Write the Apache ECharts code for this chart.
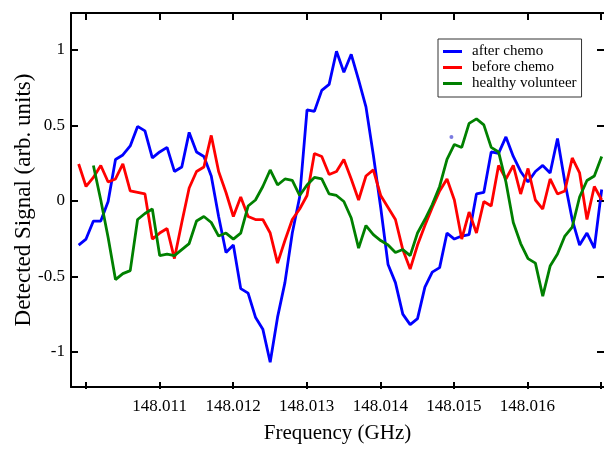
<!DOCTYPE html>
<html>
<head>
<meta charset="utf-8">
<script src="https://cdn.jsdelivr.net/npm/echarts@6/dist/echarts.min.js"></script>
<style>
  html, body { margin: 0; padding: 0; background: #fff; }
  #chart { width: 604px; height: 449px; }
</style>
</head>
<body>
<div id="chart"></div>
<script>
// frequency samples (GHz)
const freqGHz = [
  148.0099, 148.0100, 148.0101, 148.0102, 148.0103, 148.0104, 148.0105, 148.0106,
  148.0107, 148.0108, 148.0109, 148.0110, 148.0111, 148.0112, 148.0113, 148.0114,
  148.0115, 148.0116, 148.0117, 148.0118, 148.0119, 148.0120, 148.0121, 148.0122,
  148.0123, 148.0124, 148.0125, 148.0126, 148.0127, 148.0128, 148.0129, 148.0130,
  148.0131, 148.0132, 148.0133, 148.0134, 148.0135, 148.0136, 148.0137, 148.0138,
  148.0139, 148.0140, 148.0141, 148.0142, 148.0143, 148.0144, 148.0145, 148.0146,
  148.0147, 148.0148, 148.0149, 148.0150, 148.0151, 148.0152, 148.0153, 148.0154,
  148.0155, 148.0156, 148.0157, 148.0158, 148.0159, 148.0160, 148.0161, 148.0162,
  148.0163, 148.0164, 148.0165, 148.0166, 148.0167, 148.0168, 148.0169, 148.0170
];

const afterChemo = [
  -0.30, -0.26, -0.14, -0.14, -0.01, 0.27, 0.30, 0.36,
  0.49, 0.46, 0.28, 0.32, 0.35, 0.19, 0.22, 0.45,
  0.32, 0.29, 0.16, -0.11, -0.35, -0.30, -0.59, -0.62,
  -0.78, -0.86, -1.08, -0.78, -0.55, -0.22, 0.02, 0.60,
  0.59, 0.73, 0.77, 0.99, 0.85, 0.97, 0.80, 0.62,
  0.30, -0.05, -0.43, -0.55, -0.76, -0.83, -0.79, -0.58,
  -0.48, -0.45, -0.22, -0.26, -0.24, -0.23, 0.04, 0.05,
  0.32, 0.31, 0.42, 0.29, 0.19, 0.12, 0.19, 0.23,
  0.18, 0.41, 0.12, -0.13, -0.30, -0.22, -0.32, 0.07
];

const beforeChemo = [
  0.24, 0.09, 0.15, 0.23, 0.12, 0.14, 0.24, 0.06,
  0.05, 0.04, -0.26, -0.22, -0.19, -0.39, -0.15, 0.08,
  0.19, 0.22, 0.43, 0.19, 0.05, -0.11, 0.02, -0.11,
  -0.13, -0.13, -0.22, -0.42, -0.27, -0.13, -0.06, 0.03,
  0.31, 0.29, 0.17, 0.19, 0.27, 0.14, 0.00, 0.16,
  0.20, 0.03, -0.05, -0.13, -0.33, -0.46, -0.30, -0.17,
  -0.05, 0.06, 0.14, 0.00, -0.26, -0.08, -0.22, -0.01,
  -0.04, 0.23, 0.14, 0.23, 0.04, 0.21, 0.00, -0.06,
  0.14, 0.04, 0.06, 0.28, 0.18, -0.13, 0.09, 0.00
];

const healthyVolunteer = [
  null, null, 0.23, 0.00, -0.25, -0.53, -0.49, -0.47,
  -0.13, -0.09, -0.06, -0.37, -0.36, -0.37, -0.33, -0.29,
  -0.14, -0.11, -0.15, -0.24, -0.22, -0.26, -0.22, -0.04,
  0.00, 0.09, 0.20, 0.10, 0.14, 0.13, 0.03, 0.10,
  0.15, 0.14, 0.04, 0.03, -0.01, -0.12, -0.32, -0.17,
  -0.23, -0.27, -0.30, -0.35, -0.33, -0.37, -0.22, -0.13,
  -0.03, 0.09, 0.27, 0.37, 0.35, 0.51, 0.54, 0.50,
  0.35, 0.32, 0.12, -0.15, -0.29, -0.39, -0.42, -0.64,
  -0.44, -0.36, -0.24, -0.18, 0.02, 0.13, 0.16, 0.29
];

// stray dot near 148.015 GHz
const strayDot = [[148.01496, 0.42]];

const xTicks = [148.010, 148.017];   // first / last tick (unlabelled)
const yTicks = [-1, 1];

// axis ranges of the frame
const xMin = 148.009796, xMax = 148.0170313;
const yMin = -1.245, yMax = 1.245;

const FONT = 'Liberation Serif';
const plot = { left: 71, top: 13, width: 533, height: 376 };
const W = 604, H = 449;

const pxX = v => plot.left + (v - xMin) / (xMax - xMin) * plot.width;
const pxY = v => plot.top + (yMax - v) / (yMax - yMin) * plot.height;

const pair = ys => freqGHz.map((f, i) => [f, ys[i]]);

const chart = echarts.init(document.getElementById('chart'));

const axisLine = { show: true, onZero: false, lineStyle: { color: '#000', width: 2 } };
const tickIn = { show: true, inside: true, length: 7, lineStyle: { color: '#000', width: 2 } };
const hidden = { show: false };

chart.setOption({
  animation: false,
  backgroundColor: '#fff',
  grid: [
    // frame
    { left: plot.left, right: W - plot.left - plot.width, top: plot.top, bottom: H - plot.top - plot.height },
    // x ticks
    { left: pxX(xTicks[0]), right: W - pxX(xTicks[1]), top: plot.top, bottom: H - plot.top - plot.height },
    // y ticks
    { left: plot.left, right: W - plot.left - plot.width, top: pxY(yTicks[1]), bottom: H - pxY(yTicks[0]) }
  ],
  xAxis: [
    {
      type: 'value', gridIndex: 0, min: xMin, max: xMax, position: 'bottom',
      axisLine, axisTick: hidden, axisLabel: hidden, splitLine: hidden,
      name: 'Frequency (GHz)', nameLocation: 'middle', nameGap: 36,
      nameTextStyle: { fontFamily: FONT, fontSize: 21, color: '#000' }
    },
    {
      type: 'value', gridIndex: 0, min: xMin, max: xMax, position: 'top',
      axisLine, axisTick: hidden, axisLabel: hidden, splitLine: hidden
    },
    {
      type: 'value', gridIndex: 1, min: xTicks[0], max: xTicks[1], interval: 0.001, position: 'bottom',
      axisLine: hidden, axisTick: tickIn, splitLine: hidden,
      axisLabel: {
        margin: 9, fontFamily: FONT, fontSize: 17, color: '#000',
        formatter: v => {
          const s = v.toFixed(3);
          return (s === '148.010' || s === '148.017') ? '' : s;
        }
      }
    },
    {
      type: 'value', gridIndex: 1, min: xTicks[0], max: xTicks[1], interval: 0.001, position: 'top',
      axisLine: hidden, axisTick: tickIn, axisLabel: hidden, splitLine: hidden
    },
    { type: 'value', gridIndex: 2, min: 0, max: 1, show: false }
  ],
  yAxis: [
    {
      type: 'value', gridIndex: 0, min: yMin, max: yMax, position: 'left',
      axisLine, axisTick: hidden, axisLabel: hidden, splitLine: hidden,
      name: 'Detected Signal (arb. units)', nameLocation: 'middle', nameGap: 36,
      nameTextStyle: { fontFamily: FONT, fontSize: 23, color: '#000' }
    },
    {
      type: 'value', gridIndex: 0, min: yMin, max: yMax, position: 'right',
      axisLine: hidden, axisTick: hidden, axisLabel: hidden, splitLine: hidden
    },
    {
      type: 'value', gridIndex: 2, min: yTicks[0], max: yTicks[1], interval: 0.5, position: 'left',
      axisLine: hidden, axisTick: tickIn, splitLine: hidden,
      axisLabel: { margin: 6, fontFamily: FONT, fontSize: 17, color: '#000' }
    },
    {
      type: 'value', gridIndex: 2, min: yTicks[0], max: yTicks[1], interval: 0.5, position: 'right',
      axisLine: hidden, axisTick: tickIn, axisLabel: hidden, splitLine: hidden
    },
    { type: 'value', gridIndex: 1, min: 0, max: 1, show: false }
  ],
  legend: {
    orient: 'vertical', left: 438, top: 39,
    padding: [5, 5, 6, 5], itemGap: 1,
    itemWidth: 19, itemHeight: 3, icon: 'rect',
    borderColor: '#333', borderWidth: 1,
    textStyle: { fontFamily: FONT, fontSize: 15, color: '#000', padding: [0, 0, 0, 5] },
    data: ['after chemo', 'before chemo', 'healthy volunteer']
  },
  series: [
    {
      name: 'after chemo', type: 'line', xAxisIndex: 0, yAxisIndex: 0,
      data: pair(afterChemo), showSymbol: false, color: '#0000ff',
      lineStyle: { width: 2.8, color: '#0000ff' }
    },
    {
      name: 'before chemo', type: 'line', xAxisIndex: 0, yAxisIndex: 0,
      data: pair(beforeChemo), showSymbol: false, color: '#ff0000',
      lineStyle: { width: 2.8, color: '#ff0000' }
    },
    {
      name: 'healthy volunteer', type: 'line', xAxisIndex: 0, yAxisIndex: 0,
      data: pair(healthyVolunteer), showSymbol: false, color: '#008000',
      lineStyle: { width: 2.8, color: '#008000' }
    },
    {
      name: 'dot', type: 'scatter', xAxisIndex: 0, yAxisIndex: 0, silent: true,
      data: strayDot, symbolSize: 4, itemStyle: { color: '#5a5ad8' }
    }
  ]
});
</script>
</body>
</html>
